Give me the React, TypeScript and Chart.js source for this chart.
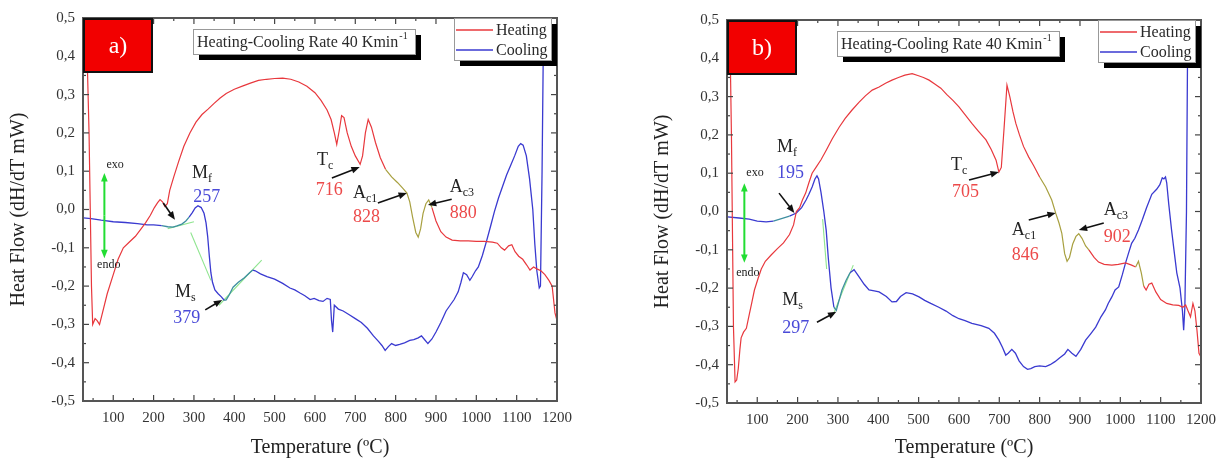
import React, { useEffect, useRef } from "react";
import { Chart, registerables } from "chart.js";

Chart.register(...registerables);

const SERIF = "'Liberation Serif', 'DejaVu Serif', 'Times New Roman', serif";
const RED = "#e8383d";
const BLUE = "#3a3ad0";
const OLIVE = "#a8a040";
const TEAL = "#3f8fa0";
const TANGENT = "#8fe58f";
const RED_TXT = "#ec4a4a";
const BLUE_TXT = "#4a4ad8";
const INK = "#222";

const X_TICKS = [100, 200, 300, 400, 500, 600, 700, 800, 900, 1000, 1100, 1200];
const Y_TICKS = [-0.5, -0.4, -0.3, -0.2, -0.1, 0, 0.1, 0.2, 0.3, 0.4, 0.5];
const SERIES_LABELS = ["Heating", "Cooling"];
const RATE_TITLE = "Heating-Cooling Rate 40 Kmin";
const RATE_SUP = "-1";
const X_TITLE = "Temperature (ºC)";
const Y_TITLE = "Heat Flow (dH/dT mW)";

type P = [number, number];

// ---------------- panel a) ----------------
const HEATING_A: P[] = [
  [30, 0.62], [40, 0.2], [46, -0.2], [49, -0.3], [55, -0.285], [60, -0.29], [66, -0.3], [72, -0.275],
  [85, -0.22], [100, -0.17], [112, -0.13], [125, -0.1], [140, -0.085], [155, -0.07], [168, -0.052],
  [180, -0.035], [192, -0.015], [202, 0.005], [210, 0.018], [216, 0.026], [222, 0.02], [228, 0.008],
  [234, 0.015], [240, 0.05], [250, 0.085], [262, 0.125], [275, 0.165], [290, 0.2], [305, 0.228],
  [320, 0.248], [335, 0.262], [350, 0.277], [365, 0.291], [380, 0.303], [400, 0.314], [420, 0.322],
  [440, 0.33], [460, 0.337], [480, 0.34], [500, 0.342], [520, 0.343], [540, 0.34], [560, 0.333],
  [580, 0.322], [600, 0.305], [615, 0.285], [630, 0.26], [640, 0.235], [648, 0.2], [654, 0.17],
  [660, 0.205], [666, 0.245], [672, 0.24], [680, 0.2], [690, 0.165], [700, 0.14], [712, 0.118],
  [718, 0.14], [725, 0.2], [732, 0.235], [740, 0.215], [750, 0.175], [762, 0.135], [775, 0.105],
  [790, 0.085], [805, 0.07], [818, 0.055], [828, 0.043], [835, 0.02], [842, -0.02], [850, -0.06],
  [856, -0.072], [862, -0.05], [868, -0.01], [875, 0.015], [882, 0.025], [890, 0.005], [900, -0.03],
  [912, -0.058], [925, -0.072], [940, -0.08], [960, -0.082], [980, -0.082], [1000, -0.083],
  [1020, -0.083], [1040, -0.085], [1052, -0.088], [1062, -0.1], [1070, -0.106], [1080, -0.095],
  [1088, -0.092], [1096, -0.11], [1105, -0.122], [1115, -0.13], [1125, -0.145], [1133, -0.158],
  [1142, -0.15], [1150, -0.155], [1160, -0.16], [1170, -0.17], [1180, -0.185], [1188, -0.2],
  [1195, -0.27], [1200, -0.29],
];

const COOLING_A: P[] = [
  [1168, 0.62], [1163, 0.1], [1159, -0.2], [1156, -0.205], [1150, -0.16], [1145, -0.09], [1140, 0.0],
  [1132, 0.08], [1124, 0.14], [1116, 0.168], [1110, 0.172], [1104, 0.165], [1095, 0.14], [1085, 0.115],
  [1075, 0.09], [1065, 0.06], [1055, 0.03], [1045, -0.005], [1035, -0.045], [1026, -0.08],
  [1015, -0.12], [1005, -0.15], [998, -0.16], [990, -0.175], [984, -0.185], [976, -0.17], [968, -0.165],
  [962, -0.19], [955, -0.215], [945, -0.235], [935, -0.25], [925, -0.265], [912, -0.295], [900, -0.32],
  [890, -0.338], [880, -0.35], [872, -0.34], [864, -0.33], [856, -0.335], [845, -0.34], [835, -0.342],
  [822, -0.348], [810, -0.352], [800, -0.355], [790, -0.35], [782, -0.358], [774, -0.368],
  [766, -0.355], [758, -0.345], [745, -0.33], [730, -0.31], [715, -0.295], [700, -0.285],
  [685, -0.275], [670, -0.265], [658, -0.26], [648, -0.25], [644, -0.32], [641, -0.29], [638, -0.235],
  [630, -0.232], [620, -0.24], [610, -0.238], [598, -0.232], [588, -0.235], [575, -0.225],
  [563, -0.218], [550, -0.21], [538, -0.205], [520, -0.193], [500, -0.182], [481, -0.175],
  [465, -0.168], [452, -0.16], [446, -0.158], [438, -0.165], [425, -0.178], [410, -0.19],
  [397, -0.203], [388, -0.222], [380, -0.236], [375, -0.237], [368, -0.228], [360, -0.22],
  [352, -0.21], [346, -0.19], [342, -0.165], [338, -0.12], [334, -0.07], [330, -0.035], [325, -0.01],
  [318, 0.005], [310, 0.01], [303, 0.004], [296, -0.008], [288, -0.02], [280, -0.03], [270, -0.038],
  [258, -0.043], [248, -0.046], [235, -0.045], [220, -0.042], [200, -0.04], [184, -0.04],
  [160, -0.037], [130, -0.034], [100, -0.032], [70, -0.028], [45, -0.024], [26, -0.022],
];

const TANGENTS_A: P[][] = [
  [[235, -0.05], [300, -0.032]],
  [[292, -0.06], [342, -0.185]],
  [[362, -0.25], [468, -0.132]],
];
const HEAT_OLIVE_A: P[] = [[770, 895]];
const COOL_TEAL_A: P[] = [[210, 295], [372, 448]];

// ---------------- panel b) ----------------
const HEATING_B: P[] = [
  [30, 0.62], [36, 0.2], [41, -0.3], [45, -0.445], [49, -0.44], [53, -0.41], [57, -0.36], [60, -0.33],
  [66, -0.315], [73, -0.305], [80, -0.27], [87, -0.235], [93, -0.205], [102, -0.175], [110, -0.15],
  [120, -0.13], [135, -0.113], [150, -0.097], [165, -0.082], [180, -0.06], [190, -0.035], [197, 0.0],
  [205, 0.01], [212, 0.03], [220, 0.048], [228, 0.075], [236, 0.1], [246, 0.116], [258, 0.135],
  [271, 0.16], [286, 0.19], [303, 0.22], [318, 0.243], [335, 0.265], [352, 0.285], [368, 0.302],
  [385, 0.317], [402, 0.325], [418, 0.335], [434, 0.343], [450, 0.35], [466, 0.356], [484, 0.36],
  [498, 0.355], [512, 0.35], [526, 0.343], [540, 0.333], [555, 0.322], [570, 0.305], [585, 0.29],
  [600, 0.273], [615, 0.253], [632, 0.23], [648, 0.21], [667, 0.187], [680, 0.162], [692, 0.134],
  [699, 0.103], [705, 0.115], [712, 0.22], [719, 0.33], [726, 0.3], [734, 0.26], [741, 0.23],
  [750, 0.2], [760, 0.17], [773, 0.142], [785, 0.12], [800, 0.09], [815, 0.064], [830, 0.03],
  [840, -0.005], [848, -0.03], [855, -0.057], [862, -0.11], [868, -0.13], [874, -0.12], [882, -0.085],
  [890, -0.065], [897, -0.058], [905, -0.07], [914, -0.09], [922, -0.1], [935, -0.12], [946, -0.132],
  [960, -0.138], [979, -0.14], [995, -0.138], [1013, -0.134], [1028, -0.14], [1038, -0.145],
  [1045, -0.13], [1052, -0.16], [1058, -0.195], [1064, -0.205], [1071, -0.19], [1078, -0.187],
  [1088, -0.21], [1100, -0.23], [1115, -0.24], [1130, -0.244], [1145, -0.245], [1155, -0.25],
  [1162, -0.244], [1168, -0.26], [1174, -0.275], [1180, -0.24], [1185, -0.26], [1190, -0.31],
  [1195, -0.37], [1200, -0.38],
];

const COOLING_B: P[] = [
  [1168, 0.62], [1164, 0.0], [1160, -0.25], [1157, -0.31], [1154, -0.26], [1148, -0.2], [1140, -0.16],
  [1133, -0.1], [1127, -0.048], [1120, 0.02], [1115, 0.075], [1112, 0.09], [1108, 0.085],
  [1104, 0.088], [1098, 0.07], [1090, 0.058], [1078, 0.045], [1065, 0.01], [1055, -0.02],
  [1045, -0.048], [1036, -0.07], [1028, -0.083], [1020, -0.11], [1013, -0.134], [1005, -0.165],
  [996, -0.197], [987, -0.205], [979, -0.223], [970, -0.24], [963, -0.257], [952, -0.275],
  [939, -0.302], [926, -0.32], [914, -0.336], [902, -0.36], [890, -0.378], [880, -0.37], [870, -0.36],
  [862, -0.372], [850, -0.382], [838, -0.392], [826, -0.4], [815, -0.405], [800, -0.403],
  [788, -0.405], [778, -0.41], [770, -0.412], [760, -0.405], [749, -0.39], [740, -0.37], [731, -0.36],
  [722, -0.37], [716, -0.375], [708, -0.355], [699, -0.336], [688, -0.318], [674, -0.305],
  [655, -0.298], [632, -0.292], [615, -0.285], [600, -0.28], [585, -0.272], [568, -0.26], [550, -0.25],
  [530, -0.24], [515, -0.232], [501, -0.223], [485, -0.215], [469, -0.212], [455, -0.222],
  [445, -0.235], [434, -0.236], [420, -0.222], [402, -0.21], [390, -0.207], [377, -0.205],
  [365, -0.19], [352, -0.17], [340, -0.152], [330, -0.16], [320, -0.18], [310, -0.205], [302, -0.235],
  [296, -0.258], [290, -0.25], [283, -0.2], [276, -0.12], [271, -0.05], [265, 0.0], [258, 0.05],
  [252, 0.085], [248, 0.093], [243, 0.085], [236, 0.064], [228, 0.045], [221, 0.03], [210, 0.01],
  [197, -0.004], [180, -0.012], [162, -0.018], [140, -0.025], [122, -0.027], [100, -0.025],
  [80, -0.02], [55, -0.017], [26, -0.014],
];

const TANGENTS_B: P[][] = [
  [[262, -0.02], [272, -0.15]],
  [[288, -0.27], [338, -0.14]],
];
const HEAT_OLIVE_B: P[] = [[790, 925], [1035, 1062]];
const COOL_TEAL_B: P[] = [[130, 190], [284, 330]];

// ---------------- annotations (data coordinates) ----------------
type Lbl = { t: number; v: number; text: string; sub?: string; color: string };
type Arr = [P, P];
type PanelCfg = {
  tag: string;
  labels: Lbl[];
  arrows: Arr[];
  exoArrow: { t: number; top: number; bottom: number };
  exoText: P;
  endoText: P;
};

const PANEL_A: PanelCfg = {
  tag: "a)",
  labels: [
    { t: 295, v: 0.095, text: "M", sub: "f", color: INK },
    { t: 298, v: 0.033, text: "257", color: BLUE_TXT },
    { t: 253, v: -0.215, text: "M", sub: "s", color: INK },
    { t: 249, v: -0.283, text: "379", color: BLUE_TXT },
    { t: 605, v: 0.129, text: "T", sub: "c", color: INK },
    { t: 602, v: 0.051, text: "716", color: RED_TXT },
    { t: 694, v: 0.043, text: "A", sub: "c1", color: INK },
    { t: 694, v: -0.02, text: "828", color: RED_TXT },
    { t: 934, v: 0.059, text: "A", sub: "c3", color: INK },
    { t: 934, v: -0.009, text: "880", color: RED_TXT },
  ],
  arrows: [
    [[224, 0.017], [253, -0.027]],
    [[328, -0.262], [370, -0.236]],
    [[642, 0.082], [711, 0.111]],
    [[756, 0.017], [828, 0.043]],
    [[939, 0.027], [880, 0.012]],
  ],
  exoArrow: { t: 78, top: 0.095, bottom: -0.127 },
  exoText: [83, 0.116],
  endoText: [60, -0.145],
};

const PANEL_B: PanelCfg = {
  tag: "b)",
  labels: [
    { t: 149, v: 0.168, text: "M", sub: "f", color: INK },
    { t: 149, v: 0.1, text: "195", color: BLUE_TXT },
    { t: 162, v: -0.231, text: "M", sub: "s", color: INK },
    { t: 162, v: -0.304, text: "297", color: BLUE_TXT },
    { t: 580, v: 0.121, text: "T", sub: "c", color: INK },
    { t: 583, v: 0.051, text: "705", color: RED_TXT },
    { t: 731, v: -0.048, text: "A", sub: "c1", color: INK },
    { t: 731, v: -0.114, text: "846", color: RED_TXT },
    { t: 959, v: 0.004, text: "A", sub: "c3", color: INK },
    { t: 959, v: -0.067, text: "902", color: RED_TXT },
  ],
  arrows: [
    [[154, 0.048], [192, -0.004]],
    [[248, -0.289], [296, -0.262]],
    [[625, 0.082], [699, 0.103]],
    [[773, -0.022], [840, -0.004]],
    [[959, -0.03], [897, -0.048]],
  ],
  exoArrow: { t: 68, top: 0.074, bottom: -0.134 },
  exoText: [73, 0.1],
  endoText: [48, -0.16],
};

const fmt = (v: number) => {
  const s = Math.abs(v) < 1e-9 ? "0.0" : v.toFixed(1);
  return s.replace(".", ",");
};

const inRanges = (x0: number, x1: number, ranges: P[]) =>
  ranges.some(([a, b]) => Math.min(x0, x1) >= a && Math.max(x0, x1) <= b);

function drawArrow(ctx: CanvasRenderingContext2D, x1: number, y1: number, x2: number, y2: number, color: string, head: number, width: number) {
  const ang = Math.atan2(y2 - y1, x2 - x1);
  ctx.save();
  ctx.strokeStyle = color;
  ctx.fillStyle = color;
  ctx.lineWidth = width;
  ctx.beginPath();
  ctx.moveTo(x1, y1);
  ctx.lineTo(x2 - Math.cos(ang) * head * 0.8, y2 - Math.sin(ang) * head * 0.8);
  ctx.stroke();
  ctx.beginPath();
  ctx.moveTo(x2, y2);
  ctx.lineTo(x2 - head * Math.cos(ang - 0.38), y2 - head * Math.sin(ang - 0.38));
  ctx.lineTo(x2 - head * Math.cos(ang + 0.38), y2 - head * Math.sin(ang + 0.38));
  ctx.closePath();
  ctx.fill();
  ctx.restore();
}

function makePlugin(cfg: PanelCfg) {
  return {
    id: "decor",
    afterDraw(chart: any) {
      const ctx: CanvasRenderingContext2D = chart.ctx;
      const { left, right, top, bottom } = chart.chartArea;
      const xs = chart.scales.x;
      const ys = chart.scales.y;
      const X = (t: number) => xs.getPixelForValue(t);
      const Y = (v: number) => ys.getPixelForValue(v);
      ctx.save();

      // inward ticks on all four sides
      ctx.strokeStyle = "#444";
      ctx.lineWidth = 1.2;
      const seg = (a: number, b: number, c: number, d: number) => {
        ctx.beginPath();
        ctx.moveTo(a, b);
        ctx.lineTo(c, d);
        ctx.stroke();
      };
      X_TICKS.forEach((v) => {
        const px = X(v);
        seg(px, bottom, px, bottom - 6);
        seg(px, top, px, top + 6);
        const m = X(v - 50);
        if (m > left) {
          seg(m, bottom, m, bottom - 3);
          seg(m, top, m, top + 3);
        }
      });
      Y_TICKS.forEach((v, i) => {
        const py = Y(v);
        seg(left, py, left + 6, py);
        seg(right, py, right - 6, py);
        if (i > 0) {
          const m = Y(v - 0.05);
          seg(left, m, left + 3, m);
          seg(right, m, right - 3, m);
        }
      });
      ctx.strokeStyle = "#555";
      ctx.lineWidth = 2;
      ctx.strokeRect(left, top, right - left, bottom - top);

      // red tag box
      ctx.fillStyle = "#f20000";
      ctx.fillRect(left, top, 70, 55);
      ctx.strokeStyle = "#111";
      ctx.lineWidth = 2;
      ctx.strokeRect(left + 1, top + 1, 68, 53);
      ctx.fillStyle = "#fff";
      ctx.font = `24px ${SERIF}`;
      ctx.textAlign = "center";
      ctx.textBaseline = "middle";
      ctx.fillText(cfg.tag, left + 35, top + 29);

      // rate title box
      const bx = left + 110, by = top + 11, bw = 222, bh = 25;
      ctx.fillStyle = "#000";
      ctx.fillRect(bx + 6, by + 6, bw, bh);
      ctx.fillStyle = "#fff";
      ctx.fillRect(bx, by, bw, bh);
      ctx.strokeStyle = "#999";
      ctx.lineWidth = 1;
      ctx.strokeRect(bx + 0.5, by + 0.5, bw, bh);
      ctx.fillStyle = "#2a2a2a";
      ctx.textAlign = "left";
      ctx.font = `16px ${SERIF}`;
      ctx.fillText(RATE_TITLE, bx + 4, by + bh / 2 + 1);
      const tw = ctx.measureText(RATE_TITLE).width;
      ctx.font = `10px ${SERIF}`;
      ctx.fillText(RATE_SUP, bx + 5 + tw, by + 7);

      // legend box
      const lx = right - 103, ly = top, lw = 97, lh = 42;
      ctx.fillStyle = "#000";
      ctx.fillRect(lx + 6, ly + 6, lw, lh);
      ctx.fillStyle = "#fff";
      ctx.fillRect(lx, ly, lw, lh);
      ctx.strokeStyle = "#999";
      ctx.strokeRect(lx + 0.5, ly + 0.5, lw, lh);
      const ds = chart.data.datasets;
      [0, 1].forEach((i) => {
        const yy = ly + 12 + i * 20;
        ctx.strokeStyle = ds[i].borderColor;
        ctx.lineWidth = 1.5;
        seg(lx + 2, yy, lx + 39, yy);
        ctx.fillStyle = "#2a2a2a";
        ctx.font = `16px ${SERIF}`;
        ctx.fillText(ds[i].label, lx + 42, yy + 1);
      });

      // exo / endo arrow
      const ex = X(cfg.exoArrow.t);
      const et = Y(cfg.exoArrow.top);
      const eb = Y(cfg.exoArrow.bottom);
      const mid = (et + eb) / 2;
      drawArrow(ctx, ex, mid, ex, et, "#22dd33", 9, 2);
      drawArrow(ctx, ex, mid, ex, eb, "#22dd33", 9, 2);
      ctx.fillStyle = INK;
      ctx.font = `12px ${SERIF}`;
      ctx.fillText("exo", X(cfg.exoText[0]), Y(cfg.exoText[1]));
      ctx.fillText("endo", X(cfg.endoText[0]), Y(cfg.endoText[1]));

      // black arrows
      cfg.arrows.forEach(([a, b]) => {
        drawArrow(ctx, X(a[0]), Y(a[1]), X(b[0]), Y(b[1]), "#111", 9, 1.6);
      });

      // labels
      cfg.labels.forEach((l) => {
        const px = X(l.t), py = Y(l.v);
        ctx.fillStyle = l.color;
        ctx.font = `18px ${SERIF}`;
        ctx.fillText(l.text, px, py);
        if (l.sub) {
          const w = ctx.measureText(l.text).width;
          ctx.font = `12px ${SERIF}`;
          ctx.fillText(l.sub, px + w, py + 6);
        }
      });

      ctx.restore();
    },
  };
}

type PanelProps = {
  heating: P[];
  cooling: P[];
  tangents: P[][];
  olive: P[];
  teal: P[];
  cfg: PanelCfg;
  left: number;
  padTop: number;
  padRight: number;
  xAxisH: number;
};

function Panel(props: PanelProps) {
  const ref = useRef<HTMLCanvasElement | null>(null);
  useEffect(() => {
    if (!ref.current) return;
    const tickFont = { family: SERIF, size: 15 };
    const titleFont = { family: SERIF, size: 20 };
    const datasets: any[] = [
      {
        label: SERIES_LABELS[0],
        data: props.heating.map(([x, y]) => ({ x, y })),
        borderColor: RED,
        borderWidth: 1.2,
        pointRadius: 0,
        segment: {
          borderColor: (c: any) => (inRanges(c.p0.parsed.x, c.p1.parsed.x, props.olive) ? OLIVE : undefined),
        },
      },
      {
        label: SERIES_LABELS[1],
        data: props.cooling.map(([x, y]) => ({ x, y })),
        borderColor: BLUE,
        borderWidth: 1.3,
        pointRadius: 0,
        segment: {
          borderColor: (c: any) => (inRanges(c.p0.parsed.x, c.p1.parsed.x, props.teal) ? TEAL : undefined),
        },
      },
      ...props.tangents.map((t) => ({
        label: "tangent",
        data: t.map(([x, y]) => ({ x, y })),
        borderColor: TANGENT,
        borderWidth: 1.1,
        pointRadius: 0,
      })),
    ];
    const chart = new Chart(ref.current, {
      type: "line",
      data: { datasets },
      options: {
        responsive: false,
        animation: false,
        events: [],
        layout: { padding: { left: 0, right: props.padRight, top: props.padTop, bottom: 0 } },
        plugins: { legend: { display: false }, tooltip: { enabled: false } },
        scales: {
          x: {
            type: "linear",
            min: 25,
            max: 1200,
            afterBuildTicks: (s: any) => {
              s.ticks = X_TICKS.map((value) => ({ value }));
            },
            afterFit: (s: any) => {
              s.height = props.xAxisH;
            },
            grid: { display: false, drawTicks: false },
            border: { display: false },
            ticks: {
              font: tickFont,
              color: "#333",
              padding: 8,
              maxRotation: 0,
              autoSkip: false,
              callback: (v: any) => String(Math.round(Number(v))),
            },
            title: { display: true, text: X_TITLE, font: titleFont, color: "#222", padding: { top: 0, bottom: 4 } },
          },
          y: {
            type: "linear",
            min: -0.5,
            max: 0.5,
            afterBuildTicks: (s: any) => {
              s.ticks = Y_TICKS.map((value) => ({ value }));
            },
            afterFit: (s: any) => {
              s.width = 83;
            },
            grid: { display: false, drawTicks: false },
            border: { display: false },
            ticks: { font: tickFont, color: "#333", padding: 8, callback: (v: any) => fmt(Number(v)) },
            title: { display: true, text: Y_TITLE, font: titleFont, color: "#222", padding: { top: 7, bottom: 0 } },
          },
        },
      } as any,
      plugins: [makePlugin(props.cfg) as any],
    });
    return () => chart.destroy();
  }, []);
  return (
    <canvas
      ref={ref}
      width={580}
      height={464}
      style={{ position: "absolute", left: props.left, top: 0, width: 580, height: 464 }}
    />
  );
}

export default function App() {
  return (
    <div style={{ position: "absolute", left: 0, top: 0, width: 1224, height: 464, background: "#fff", overflow: "hidden" }}>
      <Panel
        heating={HEATING_A}
        cooling={COOLING_A}
        tangents={TANGENTS_A}
        olive={HEAT_OLIVE_A}
        teal={COOL_TEAL_A}
        cfg={PANEL_A}
        left={0}
        padTop={18}
        padRight={23}
        xAxisH={63}
      />
      <Panel
        heating={HEATING_B}
        cooling={COOLING_B}
        tangents={TANGENTS_B}
        olive={HEAT_OLIVE_B}
        teal={COOL_TEAL_B}
        cfg={PANEL_B}
        left={644}
        padTop={20}
        padRight={22}
        xAxisH={61}
      />
    </div>
  );
}
